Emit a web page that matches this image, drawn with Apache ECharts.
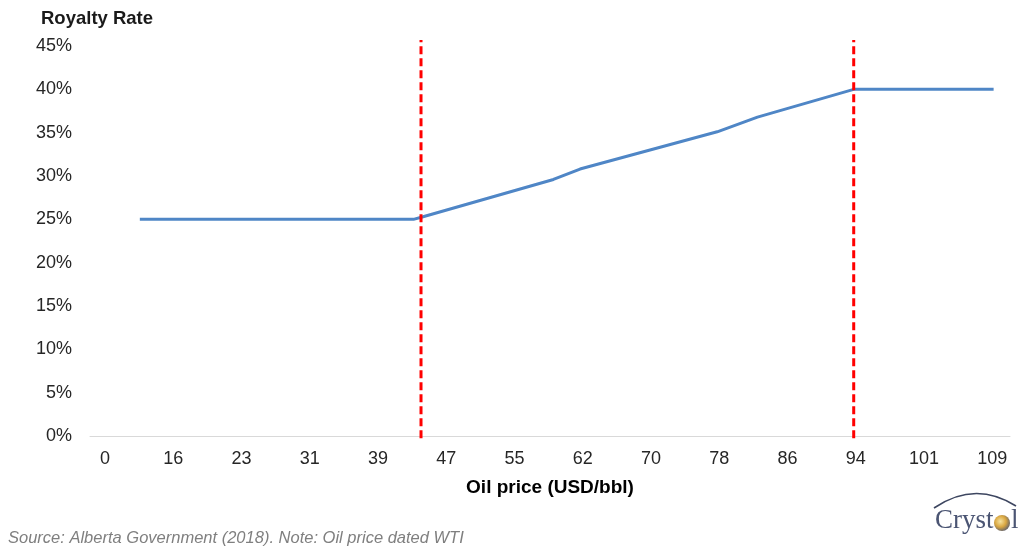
<!DOCTYPE html>
<html>
<head>
<meta charset="utf-8">
<script src="https://cdn.jsdelivr.net/npm/echarts@6/dist/echarts.min.js"></script>
<style>
  html, body { margin: 0; padding: 0; background: #ffffff; }
  #chart { width: 1021px; height: 548px; }
</style>
</head>
<body>
<div id="chart"></div>
<script>
// Oil price tick labels (USD/bbl), one per evenly spaced axis slot
const priceLabels = ['0', '16', '23', '31', '39', '47', '55', '62', '70', '78', '86', '94', '101', '109'];

// Royalty curve: position along the price axis (slot units) and rate in %
const pricePos = [0.51, 4.52, 4.66, 6.57, 6.96, 8.97, 9.56, 10.97, 13.02];
const royaltyRate = [25, 25, 25.3, 29.6, 30.8, 35.1, 36.8, 40, 40];

// Price thresholds marked with dashed verticals (slot units)
const thresholdPos = [4.63, 10.97];

// Y-axis ticks
const rateTicks = [0, 5, 10, 15, 20, 25, 30, 35, 40, 45];

const font = '"Liberation Sans", Arial, sans-serif';

const chart = echarts.init(document.getElementById('chart'), null, { renderer: 'canvas' });

const linePoints = pricePos.map((p, i) => [p, royaltyRate[i]]);

const thresholdSeries = thresholdPos.map(p => ({
  type: 'line',
  data: [[p, -0.25], [p, 45.7]],
  symbol: 'none',
  clip: false,
  silent: true,
  z: 5,
  lineStyle: { color: '#ff0000', width: 3, type: [8, 4] }
}));

chart.setOption({
  animation: false,
  backgroundColor: '#ffffff',
  grid: { left: 90, right: 11, top: 46, bottom: 112, containLabel: false },
  xAxis: {
    type: 'value',
    min: -0.22,
    max: 13.26,
    name: 'Oil price (USD/bbl)',
    nameLocation: 'middle',
    nameGap: 42,
    nameTextStyle: { fontFamily: font, fontSize: 19, fontWeight: 'bold', color: '#000000' },
    axisLine: { show: true, lineStyle: { color: '#d9d9d9', width: 1 } },
    axisTick: { show: false },
    splitLine: { show: false },
    axisLabel: {
      customValues: priceLabels.map((_, i) => i),
      formatter: v => priceLabels[Math.round(v)],
      fontFamily: font,
      fontSize: 18,
      color: '#262626',
      margin: 14
    }
  },
  yAxis: {
    type: 'value',
    min: rateTicks[0],
    max: rateTicks[rateTicks.length - 1],
    interval: 5,
    axisLine: { show: false },
    axisTick: { show: false },
    splitLine: { show: false },
    axisLabel: {
      formatter: v => v + '%',
      fontFamily: font,
      fontSize: 18,
      color: '#262626',
      margin: 18
    }
  },
  series: [
    {
      type: 'line',
      data: linePoints,
      symbol: 'none',
      z: 3,
      lineStyle: { color: '#4f86c6', width: 3 }
    },
    ...thresholdSeries
  ],
  graphic: [
    {
      type: 'text',
      x: 41,
      y: 9,
      style: { text: 'Royalty Rate', font: 'bold 18.5px ' + font, fill: '#1a1a1a' }
    },
    {
      type: 'text',
      x: 8,
      y: 530,
      style: {
        text: 'Source: Alberta Government (2018). Note: Oil price dated WTI',
        font: 'italic 16.5px ' + font,
        fill: '#7f7f7f'
      }
    },
    // Crystol logo
    {
      type: 'bezierCurve',
      shape: { x1: 934, y1: 508, x2: 1016, y2: 506, cpx1: 975, cpy1: 480 },
      style: { fill: null, stroke: '#3d4660', lineWidth: 1.6 }
    },
    {
      type: 'text',
      x: 935,
      y: 507,
      style: { text: 'Cryst', font: '27px "Liberation Serif", "DejaVu Serif", serif', fill: '#4b5573' }
    },
    {
      type: 'circle',
      shape: { cx: 1002, cy: 523, r: 8 },
      style: {
        fill: {
          type: 'radial', x: 0.4, y: 0.4, r: 0.7,
          colorStops: [
            { offset: 0, color: '#f6e3a0' },
            { offset: 0.5, color: '#d9a640' },
            { offset: 1, color: '#4b5573' }
          ]
        }
      }
    },
    {
      type: 'text',
      x: 1011,
      y: 507,
      style: { text: 'l', font: '27px "Liberation Serif", "DejaVu Serif", serif', fill: '#4b5573' }
    }
  ]
});
</script>
</body>
</html>
